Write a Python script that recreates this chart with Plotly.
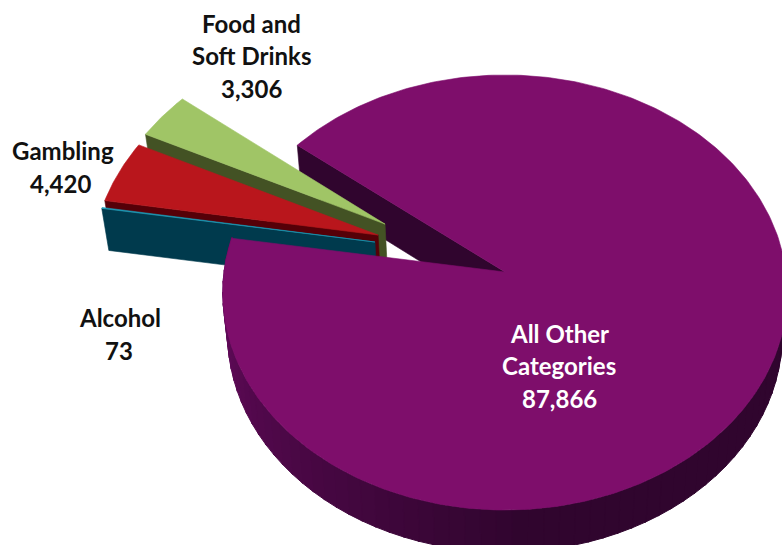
import math
import plotly.graph_objects as go

# Slice values, in drawing order clockwise from the top of the main slice
categories = ["All Other Categories", "Alcohol", "Gambling", "Food and Soft Drinks"]
values = [87866, 73, 4420, 3306]
top_colors = ["#7e0e6b", "#1c9cb8", "#b9161c", "#a0c566"]
wall_colors = ["#30052e", "#003a4d", "#550008", "#435224"]

# Pulled-out placement on the pie plane: offset and radius of each slice
offset_x = [0.0, -0.469, -0.459, -0.436]
offset_y = [0.0, 0.141, 0.174, 0.227]
slice_radius = [1.0, 1.02, 1.025, 1.03]

label_lines = [
    ("Food and", 251, 23, "#111111"), ("Soft Drinks", 251, 55, "#111111"), ("3,306", 251, 88, "#111111"),
    ("Gambling", 63, 150, "#111111"), ("4,420", 60, 183, "#111111"),
    ("Alcohol", 120, 317, "#111111"), ("73", 119, 350, "#111111"),
    ("All Other", 559, 333, "white"), ("Categories", 559, 365, "white"), ("87,866", 559, 398, "white"),
]

START_ANGLE = 308.5
CX, CY = 505.0, 272.0
A, B, K, DEPTH = 281.0, 215.6, 0.0943, 42.0


def project(px, py, z=0.0):
    """Perspective view of a point on the pie plane; z runs downward through the disc."""
    w = 1 + K * py
    return CX + A * px / w * (1 - 0.0175 * z), CY - B * py / w + DEPTH * z


def polar(angle, radius, origin):
    t = math.radians(angle)
    return origin[0] + radius * math.sin(t), origin[1] + radius * math.cos(t)


def polygon(points, color, z=None, width=0.6):
    zs = z if z is not None else [0.0] * len(points)
    xy = [project(p[0], p[1], d) for p, d in zip(points, zs)]
    return go.Scatter(
        x=[c[0] for c in xy] + [xy[0][0]], y=[c[1] for c in xy] + [xy[0][1]],
        mode="lines", fill="toself", fillcolor=color,
        line=dict(color=color, width=width), hoverinfo="skip", showlegend=False,
    )


def slice_top(i, a0, a1, n):
    origin = (offset_x[i], offset_y[i])
    rim = [polar(a0 + (a1 - a0) * k / n, slice_radius[i], origin) for k in range(n + 1)]
    return polygon([origin] + rim, top_colors[i])


def radial_wall(i, angle):
    origin = (offset_x[i], offset_y[i])
    rim = polar(angle, slice_radius[i], origin)
    return polygon([origin, rim, rim, origin], wall_colors[i], [0, 0, 1, 1])


def side_shade(angle):
    """Rim shading: dark toward the front right, lifting toward the far left."""
    f = min(max((angle - 175.0) / 95.0, 0.0), 1.0)
    dark, light = (48, 5, 46), (100, 10, 92)
    return "rgb(%d,%d,%d)" % tuple(round(d + (l - d) * f) for d, l in zip(dark, light))


# Angular extent of every slice, taken from its share of the total
total = sum(values)
spans = []
angle = START_ANGLE
for v in values:
    sweep = 360.0 * v / total
    spans.append((angle, angle + sweep))
    angle += sweep

fig = go.Figure()

# Back to front: main slice's cut face, then the pulled-out slices, then the main slice
fig.add_trace(radial_wall(0, spans[0][0]))

for i in (3, 2, 1):
    a0, a1 = spans[i][0] - 360, spans[i][1] - 360
    fig.add_trace(radial_wall(i, a0))
    fig.add_trace(slice_top(i, a0, a1, 30))

rim_start, rim_end = 90.0, spans[0][1] - 360.0
steps = 64
for s in range(steps):
    t0 = rim_start + (rim_end - rim_start) * s / steps
    t1 = rim_start + (rim_end - rim_start) * (s + 1) / steps
    p0, p1 = polar(t0, 1.0, (0, 0)), polar(t1 + 0.3, 1.0, (0, 0))
    fig.add_trace(polygon([p0, p1, p1, p0], side_shade(t0), [0, 0, 1, 1], width=1.0))

fig.add_trace(slice_top(0, spans[0][0], spans[0][1], 360))

for text, x, y, color in label_lines:
    fig.add_annotation(
        x=x, y=y, text=text, showarrow=False, xanchor="center", yanchor="middle",
        font=dict(family="Lato, sans-serif", size=24, color=color, weight="bold"),
    )

fig.update_layout(
    width=782, height=545, margin=dict(l=0, r=0, t=0, b=0),
    paper_bgcolor="white", plot_bgcolor="white", showlegend=False,
    xaxis=dict(range=[0, 782], visible=False, fixedrange=True),
    yaxis=dict(range=[545, 0], visible=False, fixedrange=True),
)

fig.write_html("out.html")
